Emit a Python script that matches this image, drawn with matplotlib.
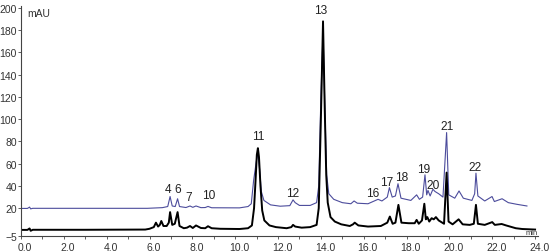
import matplotlib
matplotlib.use("Agg")
import matplotlib.pyplot as plt
import matplotlib.transforms as mtransforms
from matplotlib.ticker import MultipleLocator, FixedLocator

plt.rcParams["font.family"] = ["Liberation Sans", "DejaVu Sans"]

# trace points (time in min, signal in mAU)
black_t = [0.0, 0.3, 0.4, 0.45, 0.55, 3.0, 5.8, 6.0, 6.2, 6.3, 6.4, 6.48, 6.55, 6.65,
           6.8, 6.9, 6.96, 7.06, 7.18, 7.31, 7.4, 7.6, 7.75, 7.89, 8.02, 8.17, 8.4,
           8.6, 8.73, 8.9, 9.3, 10.2, 10.6, 10.78, 10.88, 10.95, 11.01, 11.06, 11.11,
           11.18, 11.26, 11.36, 11.6, 11.9, 12.4, 12.62, 12.7, 12.8, 13.1, 13.5, 13.8,
           13.9, 14.0, 14.1, 14.18, 14.25, 14.32, 14.45, 14.65, 14.95, 15.35, 15.5,
           15.58, 15.75, 16.2, 16.8, 17.1, 17.22, 17.35, 17.48, 17.62, 17.76, 18.1,
           18.38, 18.47, 18.57, 18.72, 18.83, 18.9, 18.97, 19.06, 19.17, 19.27, 19.37,
           19.5, 19.75, 19.87, 19.96, 20.15, 20.43, 20.62, 20.95, 21.14, 21.24, 21.33,
           21.65, 22.0, 22.12, 22.44, 22.65, 23.1, 23.4, 24.0]
black_v = [0.5, 0.5, 1.8, -0.3, 0.6, 0.6, 0.8, 1.5, 3, 7.0, 3.5, 5, 8.5, 4,
           4, 7, 16.5, 5, 6, 16.5, 4, 2, 2.5, 4, 2.2, 4.5, 2.2,
           2, 3.8, 2, 1.5, 1.3, 2, 4.5, 20, 45, 68, 74, 66,
           40, 18, 9, 4.5, 3, 2, 3, 5, 3.5, 2.5, 3, 5,
           20, 100, 188, 110, 50, 25, 12, 8, 5.5, 4, 5.5,
           7, 4.5, 3.5, 4, 7, 12.5, 6, 7, 23, 7, 6.5,
           6.5, 9.5, 6, 9, 24, 10, 12, 8, 11, 10, 12,
           9, 6, 52, 8, 5.5, 10, 5.5, 5, 6, 23, 6,
           5, 7.5, 5, 5.8, 4.5, 2, 1.3, 0.8]

blue_t = [0.0, 0.3, 0.4, 0.45, 0.55, 5.9, 6.6, 6.85, 6.96, 7.06, 7.2, 7.31, 7.4, 7.7,
          7.89, 8.02, 8.17, 8.4, 8.6, 8.73, 8.9, 10.2, 10.6, 10.75, 10.86, 10.97,
          11.05, 11.14, 11.22, 11.34, 11.65, 12.1, 12.55, 12.7, 12.8, 13.0, 13.5,
          13.8, 13.9, 14.0, 14.1, 14.18, 14.27, 14.37, 14.6, 15.0, 15.4, 15.55, 15.7,
          16.2, 16.67, 16.85, 17.1, 17.2, 17.33, 17.48, 17.6, 17.74, 18.2, 18.47,
          18.6, 18.75, 18.86, 18.94, 19.0, 19.1, 19.23, 19.33, 19.5, 19.7, 19.87,
          19.97, 20.25, 20.45, 20.65, 21.05, 21.18, 21.24, 21.33, 21.65, 21.99, 22.1,
          22.46, 22.75, 23.15, 23.62]
blue_v = [19.8, 19.8, 21, 19.4, 19.9, 19.9, 20.5, 21.5, 30.5, 22, 21.5, 28.5, 21.5, 20.6,
          22, 20.8, 22, 20.5, 20.6, 21.6, 20.4, 20.3, 21.5, 24, 45, 60,
          70, 55, 35, 27, 23, 21.8, 22.3, 27.5, 25, 22.5, 22.5,
          25, 40, 120, 178, 115, 50, 33, 28, 25, 24, 26.5, 24.5,
          24, 28, 26.5, 30, 38.5, 30, 31, 42, 29, 27, 32,
          28, 30, 50, 32, 36, 31, 37, 35, 33, 30, 88,
          32, 29, 35.5, 29, 27, 33, 51.5, 31, 26.5, 30.5, 26,
          28.5, 25, 23.5, 22]

peak_names = ["4", "6", "7", "10", "11", "12", "13", "16", "17", "18", "19", "20", "21", "22"]
peak_x = [6.86, 7.33, 7.84, 8.78, 11.06, 12.7, 14.0, 16.42, 17.07, 17.77, 18.81, 19.25, 19.87, 21.2]
peak_y = [37.3, 37.3, 30, 32, 85, 33.7, 198, 33.7, 44, 48, 55.3, 41, 93.7, 57]

y_ticks = [-5, 20, 40, 60, 80, 100, 120, 140, 160, 180, 200]

fig = plt.figure(figsize=(5.5, 2.53), dpi=100)
ax = fig.add_axes([0.0382, 0.0632, 0.9405, 0.910])

ax.plot(blue_t, blue_v, color="#4c4c9c", lw=0.8)
ax.plot(black_t, black_v, color="black", lw=1.4)

for name, x, y in zip(peak_names, peak_x, peak_y):
    ax.text(x, y, name, ha="center", va="center", fontsize=8.6, color="#222222")

ax.set_xlim(0, 24.15)
ax.set_ylim(-5, 202)

ax.xaxis.set_major_locator(MultipleLocator(2))
ax.xaxis.set_minor_locator(MultipleLocator(1))
ax.xaxis.set_major_formatter(lambda v, p: f"{v:.1f}")
ax.yaxis.set_major_locator(FixedLocator(y_ticks))

ax.tick_params(axis="x", which="both", direction="out", length=2.5, width=0.6,
               labelsize=7.5, pad=1.5, colors="#444444", labelcolor="#333333")
ax.tick_params(axis="y", direction="out", length=2, width=0.6,
               labelsize=7.5, pad=1, colors="#444444", labelcolor="#333333")

# tick labels sit a little right of their ticks in the original
shift = mtransforms.ScaledTranslation(4 / 100, 0, fig.dpi_scale_trans)
for lab in ax.get_xticklabels():
    lab.set_transform(lab.get_transform() + shift)

for side in ["top", "right"]:
    ax.spines[side].set_visible(False)
for side in ["left", "bottom"]:
    ax.spines[side].set_color("#444444")
    ax.spines[side].set_linewidth(0.8)

ax.text(0.28, 195.5, "mAU", ha="left", va="center", fontsize=7.5, color="#333333")
ax.text(23.86, -2.2, "min", ha="center", va="center", fontsize=5.5, color="#333333")

fig.savefig("out.png", dpi=100)
